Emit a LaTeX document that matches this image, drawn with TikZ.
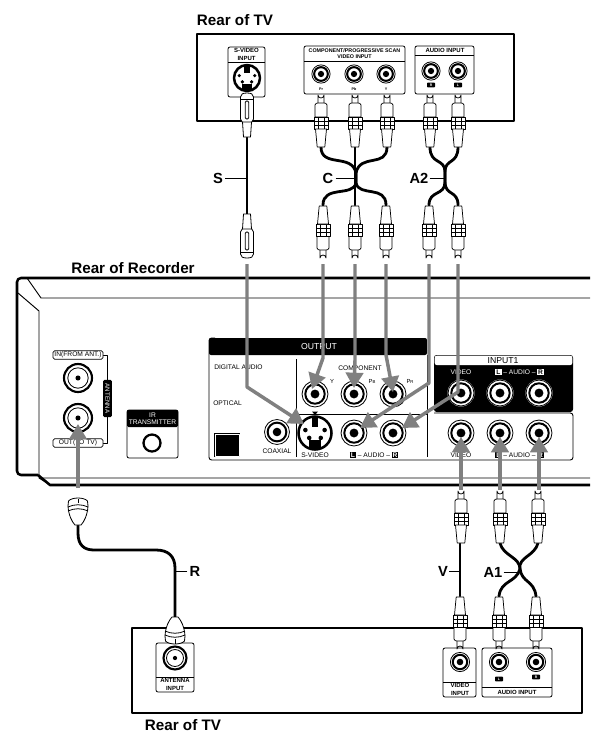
\documentclass[tikz,border=0pt]{standalone}
\usepackage{fontspec}
\setmainfont{Liberation Sans}
\usetikzlibrary{arrows.meta}
\newcommand{\fsz}[1]{\fontsize{#1}{#1}\selectfont}
\newcommand{\blk}[1]{\setlength{\fboxsep}{0.5pt}\colorbox{black}{\textcolor{white}{\makebox[3.6pt]{\bfseries #1}}}}
\newcommand{\wht}[1]{\setlength{\fboxsep}{0.5pt}\colorbox{white}{\textcolor{black}{\makebox[3.6pt]{\bfseries #1}}}}
\tikzset{
  x=0.75pt,y=-0.75pt,
  panel/.style={draw=black,line width=0.6pt,fill=white,rounded corners=1.5pt},
  heading/.style={font=\fsz{11.4}\bfseries,inner sep=0pt},
  cablelabel/.style={font=\fsz{11}\bfseries,inner sep=0pt},
  tiny/.style={font=\fsz{4.5}\bfseries,inner sep=0pt,align=center},
  small/.style={font=\fsz{5},inner sep=0pt,align=center},
  leader/.style={line width=0.6pt},
  cable/.style={line width=2.1pt,line cap=round},
  link/.style={line width=2.6pt,draw=arrowgray,-{Triangle[length=11.5pt,width=13pt]}},
  pics/jack/.style={code={
    \fill[white] (0,0) circle[radius=#1];
    \draw[line width=0.6pt] (0,0) circle[radius=0.96*#1];
    \draw[line width=1.5pt] (0,0) circle[radius=0.72*#1];
    \fill (0,0) circle[radius=0.33*#1];
  }},
  pics/coax/.style={code={
    \fill[white] (0,0) circle[radius=#1];
    \draw[line width=1.6pt] (0,0) circle[radius=#1-1];
    \draw[line width=0.6pt] (0,0) circle[radius=0.68*#1];
    \fill (0,0) circle[radius=0.17*#1];
  }},
  pics/svideojack/.style={code={
    \fill[white] (0,0) circle[radius=#1];
    \draw[line width=1.9pt] (0,0) circle[radius=#1-1];
    \fill (-3,-#1+1) rectangle (3,-0.35*#1);
    \fill (-0.55*#1,-0.17*#1) circle[radius=0.13*#1];
    \fill (0.55*#1,-0.17*#1) circle[radius=0.13*#1];
    \fill (-0.33*#1,0.28*#1) circle[radius=0.13*#1];
    \fill (0.33*#1,0.28*#1) circle[radius=0.13*#1];
    \fill (-0.36*#1,0.4*#1) rectangle (0.36*#1,0.85*#1);
  }},
  pics/rca/.style={code={
    \begin{scope}[line width=0.55pt,fill=white]
    \filldraw (-3,11) -- (-3,2) arc[start angle=180,end angle=0,radius=3] -- (3,11) -- cycle;
    \filldraw (-6,24) -- (-6,12) .. controls (-6,10.5) and (-4,10) .. (-3,10) -- (3,10) .. controls (4,10) and (6,10.5) .. (6,12) -- (6,24) -- cycle;
    \filldraw (-7,24) rectangle (7,36);
    \draw (-7,28) -- (7,28) (-7,32) -- (7,32);
    \draw (-3,24) -- (-3,36) (3,24) -- (3,36);
    \filldraw (-5.5,36) -- (5.5,36) -- (3.8,54) -- (-3.8,54) -- cycle;
    \end{scope}
  }},
  pics/splug/.style={code={
    \begin{scope}[line width=0.6pt,fill=white]
    \filldraw (-6.5,26) -- (-6.5,4) .. controls (-6.5,1) and (-4,0) .. (0,0) .. controls (4,0) and (6.5,1) .. (6.5,4) -- (6.5,26) .. controls (6.5,29) and (4,30) .. (0,30) .. controls (-4,30) and (-6.5,29) .. (-6.5,26) -- cycle;
    \draw[rounded corners=1pt] (-1.8,8) rectangle (1.8,26);
    \draw (-6.5,6) -- (6.5,6);
    \filldraw (-4.5,29) -- (4.5,29) -- (3.5,44) -- (-3.5,44) -- cycle;
    \end{scope}
  }},
  pics/bell/.style={code={
    \begin{scope}[line width=0.6pt,fill=white]
    \filldraw (-3,0) .. controls (-6,3) and (-9.5,10) .. (-10,19) -- (-9.5,24) .. controls (-6,28) and (6,28) .. (9.5,24) -- (10,19) .. controls (9.5,10) and (6,3) .. (3,0) -- cycle;
    \draw (-10,14) .. controls (-4,17) and (4,17) .. (10,14);
    \draw (-10,18) .. controls (-4,21) and (4,21) .. (10,18);
    \draw (0,22) -- (0,26.5);
    \end{scope}
  }},
}
\definecolor{arrowgray}{gray}{0.5}
\begin{document}
\begin{tikzpicture}[line join=round]
\useasboundingbox (0,0) rectangle (590,733);
\fill[white] (0,0) rectangle (590,733);

% ---------- headings
\node[heading] (hTopTV) at (235,20) {Rear of TV};
\node[heading] (hRec) at (133,268) {Rear of Recorder};
\node[heading] (hBotTV) at (183,725.5) {Rear of TV};

% ---------- top TV
\draw[line width=0.8pt] (197,34) rectangle (514,121);
\draw[panel] (228,47) rectangle (265,97);
\draw[line width=0.6pt] (228,62) -- (265,62);
\node[tiny] (tSV) at (246.5,54.5) {S-VIDEO\\[1.2pt]INPUT};
\draw[panel] (304,46) rectangle (405,94);
\draw[line width=0.6pt] (304,61) -- (405,61);
\node[tiny,font=\fsz{4}\bfseries] (tCP) at (354.5,53.5) {COMPONENT/PROGRESSIVE SCAN\\[0.6pt]VIDEO INPUT};
\draw[panel] (415,46) rectangle (474,94);
\draw[line width=0.6pt] (415,55) -- (474,55);
\node[tiny] (tAI) at (445,50.5) {AUDIO INPUT};

\coordinate (tvS) at (247,78);
\coordinate (tvPr) at (321,74);
\coordinate (tvPb) at (354,74);
\coordinate (tvY) at (386,74);
\coordinate (tvR) at (431,71);
\coordinate (tvL) at (458,71);
\pic at (tvS) {svideojack=14};
\pic at (tvPr) {jack=9.5};
\pic at (tvPb) {jack=9.5};
\pic at (tvY) {jack=9.5};
\pic at (tvR) {jack=9.5};
\pic at (tvL) {jack=9.5};
\node[font=\fsz{2.8}\bfseries,inner sep=0pt] (lPr) at (321,89) {Pr};
\node[font=\fsz{2.8}\bfseries,inner sep=0pt] (lPb) at (354,89) {Pb};
\node[font=\fsz{2.8}\bfseries,inner sep=0pt] (lY) at (386,89) {Y};
\node[fill=black,rounded corners=0.6pt,minimum width=6pt,minimum height=3.6pt,inner sep=0pt,text=white,font=\fsz{2.6}\bfseries] (lR) at (431,85) {R};
\node[fill=black,rounded corners=0.6pt,minimum width=6pt,minimum height=3.6pt,inner sep=0pt,text=white,font=\fsz{2.6}\bfseries] (lL) at (458,85) {L};

% ---------- recorder body
\draw[line width=1.9pt,rounded corners=3pt] (590,278) -- (17,278) -- (17,475) -- (38,475);
\draw[line width=1.9pt] (38,475) -- (50,485) -- (590,485);
\draw[line width=0.7pt] (27,278) -- (41,298) -- (590,298);
\draw[line width=0.7pt] (18,293) -- (39,311) -- (39,478) -- (590,478);
\draw[line width=0.7pt] (39,478) -- (47,483);

% antenna block
\draw[line width=0.6pt] (103,355) -- (107,355) -- (107,443) -- (103,443);
\node[draw,line width=0.6pt,rounded corners=1.2pt,fill=white,font=\fsz{5},minimum width=37.5pt,minimum height=6.3pt,inner sep=0pt] (nIn) at (78,355) {IN(FROM ANT.)};
\node[draw,line width=0.6pt,rounded corners=1.2pt,fill=white,font=\fsz{5},minimum width=37.5pt,minimum height=6.3pt,inner sep=0pt] (nOut) at (78,443) {OUT(TO TV)};
\node[fill=black,text=white,rounded corners=1pt,font=\fsz{4.6},rotate=-90,minimum width=28pt,minimum height=6.5pt,inner sep=0pt] (nAnt) at (107.5,398.5) {ANTENNA};
\coordinate (antIn) at (78,378);
\coordinate (antOut) at (78,418);
\pic at (antIn) {coax=15};
\pic at (antOut) {coax=15};

% IR
\draw[panel] (127,410) rectangle (178,458);
\fill[black,rounded corners=1pt] (127,410) rectangle (178,427);
\node[font=\fsz{5},text=white,inner sep=0pt,align=center] (nIR) at (152.5,419) {IR\\[0.5pt]TRANSMITTER};
\coordinate (irC) at (152,443);
\draw[line width=1.7pt] (irC) circle[radius=8.5];

% output panel
\draw[line width=0.7pt,rounded corners=2pt] (215,338) -- (209,338) -- (209,460) -- (573,460) -- (573,413) -- (434,413);
\fill[black,rounded corners=1.5pt] (209,338) rectangle (427,355);
\draw[line width=0.7pt] (296,359) -- (296,457);
\draw[line width=0.7pt] (427,355) -- (427,457);
\draw[line width=0.7pt] (296,414) -- (427,414);
\node[font=\fsz{6.5},text=white,inner sep=0pt] (nOutput) at (319,347) {OUTPUT};
\node[small,anchor=west] (nDig) at (214,367.5) {DIGITAL AUDIO};
\node[small,anchor=west] (nOpt) at (213,403) {OPTICAL};
\fill (214,433) rectangle (240,457);
\draw[white,line width=0.4pt] (215,434) rectangle (239,456);
\node[small] (nCoax) at (277,451) {COAXIAL};
\node[small] (nSV) at (315,455) {S-VIDEO};
\node[small] (nComp) at (360,368) {COMPONENT};
\node[font=\fsz{4.4},inner sep=0pt] (nY) at (332,381) {Y};
\node[font=\fsz{4.4},inner sep=0pt] (nPb) at (372,381) {P\fsz{3.2}B};
\node[font=\fsz{4.4},inner sep=0pt] (nPr) at (410,381) {P\fsz{3.2}R};
\node[small] (nAud1) at (374,455) {\blk{L} -- AUDIO -- \blk{R}};

% input 1
\fill[black,rounded corners=2pt] (434,355) rectangle (573,412);
\fill[white,rounded corners=1.5pt] (434.7,355.7) -- (572.3,355.7) -- (572.3,365) -- (434.7,365) -- cycle;
\node[font=\fsz{6.5},inner sep=0pt] (nInput) at (503,360.5) {INPUT1};
\node[small,text=white] (nVid1) at (461,372) {VIDEO};
\node[small,text=white] (nAud2) at (519.5,372) {\wht{L} -- AUDIO -- \wht{R}};
\node[small] (nVid2) at (461,455) {VIDEO};
\node[small] (nAud3) at (519.5,455) {\blk{L} -- AUDIO -- \blk{R}};

\coordinate (jCoax) at (277,432);
\coordinate (jS) at (315,433);
\coordinate (jY) at (315,394);
\coordinate (jPb) at (354,394);
\coordinate (jPr) at (393,394);
\coordinate (jAL) at (354,433);
\coordinate (jAR) at (393,433);
\coordinate (jIV) at (461,393);
\coordinate (jIL) at (500,393);
\coordinate (jIR) at (539,393);
\coordinate (jOV) at (461,433);
\coordinate (jOL) at (500,433);
\coordinate (jOR) at (539,433);
\pic at (jCoax) {jack=13};
\pic at (jS) {svideojack=17.5};
\foreach \j in {jY,jPb,jPr,jAL,jAR,jIV,jIL,jIR,jOV,jOL,jOR} {\pic at (\j) {jack=13.5};}
\fill (312,411.5) -- (318,411.5) -- (315,415) -- cycle;

% ---------- bottom TV
\draw[line width=0.8pt] (132,628) rectangle (582,713);
\draw[panel] (156,643) rectangle (194,692);
\draw[line width=0.6pt] (156,677) -- (194,677);
\node[tiny] (tAnt) at (175,684.5) {ANTENNA\\[1pt]INPUT};
\draw[panel] (443,648) rectangle (476,697);
\draw[line width=0.6pt] (443,682) -- (476,682);
\node[tiny] (tVid) at (460,689.5) {VIDEO\\[1pt]INPUT};
\draw[panel] (482,648) rectangle (552,697);
\draw[line width=0.6pt] (482,687) -- (552,687);
\node[tiny] (tAud) at (517,692) {AUDIO INPUT};
\coordinate (btAnt) at (175,658);
\coordinate (btV) at (460,662);
\coordinate (btL) at (499,662);
\coordinate (btR) at (536,662);
\pic at (btAnt) {coax=12.5};
\pic at (btV) {jack=10};
\pic at (btL) {jack=10};
\pic at (btR) {jack=10};
\node[fill=black,rounded corners=0.6pt,minimum width=6pt,minimum height=3.6pt,inner sep=0pt,text=white,font=\fsz{2.6}\bfseries] (lL2) at (499,679) {L};
\node[fill=black,rounded corners=0.6pt,minimum width=6pt,minimum height=3.6pt,inner sep=0pt,text=white,font=\fsz{2.6}\bfseries] (lR2) at (536,677) {R};

% ---------- named cable ends
\coordinate (uS) at (247,137);
\coordinate (lS) at (247,214);
\coordinate (uPr) at (321,147);
\coordinate (uPb) at (355,147);
\coordinate (uY) at (387,147);
\coordinate (dPr) at (323,205);
\coordinate (dPb) at (355,205);
\coordinate (dY) at (386,205);
\coordinate (cC) at (356,178);
\coordinate (uR) at (430,147);
\coordinate (uL) at (458,147);
\coordinate (dR) at (429,205);
\coordinate (dL) at (458,205);
\coordinate (cA2) at (445,177);
\coordinate (vU) at (460,543);
\coordinate (vD) at (460,596);
\coordinate (a1UL) at (500,543);
\coordinate (a1UR) at (538,543);
\coordinate (a1DL) at (499,596);
\coordinate (a1DR) at (536,596);
\coordinate (cA1) at (520,569);
\coordinate (rU) at (78,525);
\coordinate (rD) at (175,617);

% ---------- cables
\draw[cable] (uS) -- (lS);
\draw[cable] (uPb) -- (dPb);
\draw[cable] (uPr) .. controls (321,168) and (352,153) .. (356,173) -- (356,183) .. controls (353,197) and (323,185) .. (dPr);
\draw[cable] (uY) .. controls (387,168) and (360,153) .. (356,173) -- (356,183) .. controls (359,197) and (386,185) .. (dY);
\draw[cable] (uR) .. controls (430,165) and (445,158) .. (445,172) -- (445,182) .. controls (445,196) and (429,190) .. (dR);
\draw[cable] (uL) .. controls (458,165) and (445,158) .. (445,172) -- (445,182) .. controls (445,196) and (458,190) .. (dL);
\draw[cable] (vU) -- (vD);
\draw[cable] (a1UL) .. controls (503,556) and (520,557) .. (cA1) .. controls (522,583) and (534,580) .. (a1DR);
\draw[cable] (a1UR) .. controls (535,556) and (518,557) .. (cA1) .. controls (516,583) and (501,580) .. (a1DL);
\draw[cable] (rU) -- (78,533) .. controls (78,545) and (84,550) .. (94,550) -- (156,550) .. controls (168,550) and (175,556) .. (175,568) -- (rD);

% ---------- plugs
\pic at (247,93) {splug};
\pic[yscale=-1] at (247,258) {splug};
\pic at (321,93) {rca};
\pic at (355,93) {rca};
\pic at (387,93) {rca};
\pic at (430,93) {rca};
\pic at (458,93) {rca};
\pic[yscale=-1] at (323,260) {rca};
\pic[yscale=-1] at (355,260) {rca};
\pic[yscale=-1] at (386,260) {rca};
\pic[yscale=-1] at (429,260) {rca};
\pic[yscale=-1] at (458,260) {rca};
\pic at (461,489) {rca};
\pic at (500,489) {rca};
\pic at (538,489) {rca};
\pic[yscale=-1] at (460,651) {rca};
\pic[yscale=-1] at (499,651) {rca};
\pic[yscale=-1] at (536,651) {rca};
\pic at (rD) {bell};
\pic[yscale=-1] at (rU) {bell};

% ---------- cable labels
\node[cablelabel] (S) at (218,178) {S};
\node[cablelabel] (C) at (328,178) {C};
\node[cablelabel] (A2) at (419,178) {A2};
\node[cablelabel] (V) at (443,571) {V};
\node[cablelabel] (A1) at (493,572) {A1};
\node[cablelabel] (R) at (195,571) {R};
\draw[leader] (S.east) ++(2,0) -- (uS |- S);
\draw[leader] (C.east) ++(2,0) -- (cC |- C);
\draw[leader] (A2.east) ++(1,0) -- (cA2 |- A2);
\draw[leader] (V.east) ++(1,0) -- (vU |- V);
\draw[leader] (A1.east) ++(1,0) -- (cA1 |- A1);
\draw[leader] (R.west) ++(-2,0) -- (rD |- R);

% ---------- grey connection arrows
\coordinate (gS) at (247,264);
\coordinate (gY) at (323,264);
\coordinate (gPb) at (355,264);
\coordinate (gPr) at (386,264);
\coordinate (gL) at (429,264);
\coordinate (gRr) at (458,264);
\coordinate (tS) at (304,424);
\coordinate (tY) at (312,389);
\coordinate (tPb) at (354,388);
\coordinate (tPr) at (393,392);
\coordinate (tL) at (360,428);
\coordinate (tRr) at (402,428);
\draw[link] (gS) -- (247,387) -- (tS);
\draw[link] (gY) -- (323,358) -- (tY);
\draw[link] (gPb) -- (355,360) -- (tPb);
\draw[link] (gPr) -- (386,355) -- (tPr);
\draw[link] (gL) -- (429,383) -- (tL);
\draw[link] (gRr) -- (458,392) -- (tRr);
\draw[link] (461,490) -- (461,437);
\draw[link] (500,490) -- (500,437);
\draw[link] (539,490) -- (539,437);
\draw[link] (78,488) -- (78,424);
\end{tikzpicture}
\end{document}
